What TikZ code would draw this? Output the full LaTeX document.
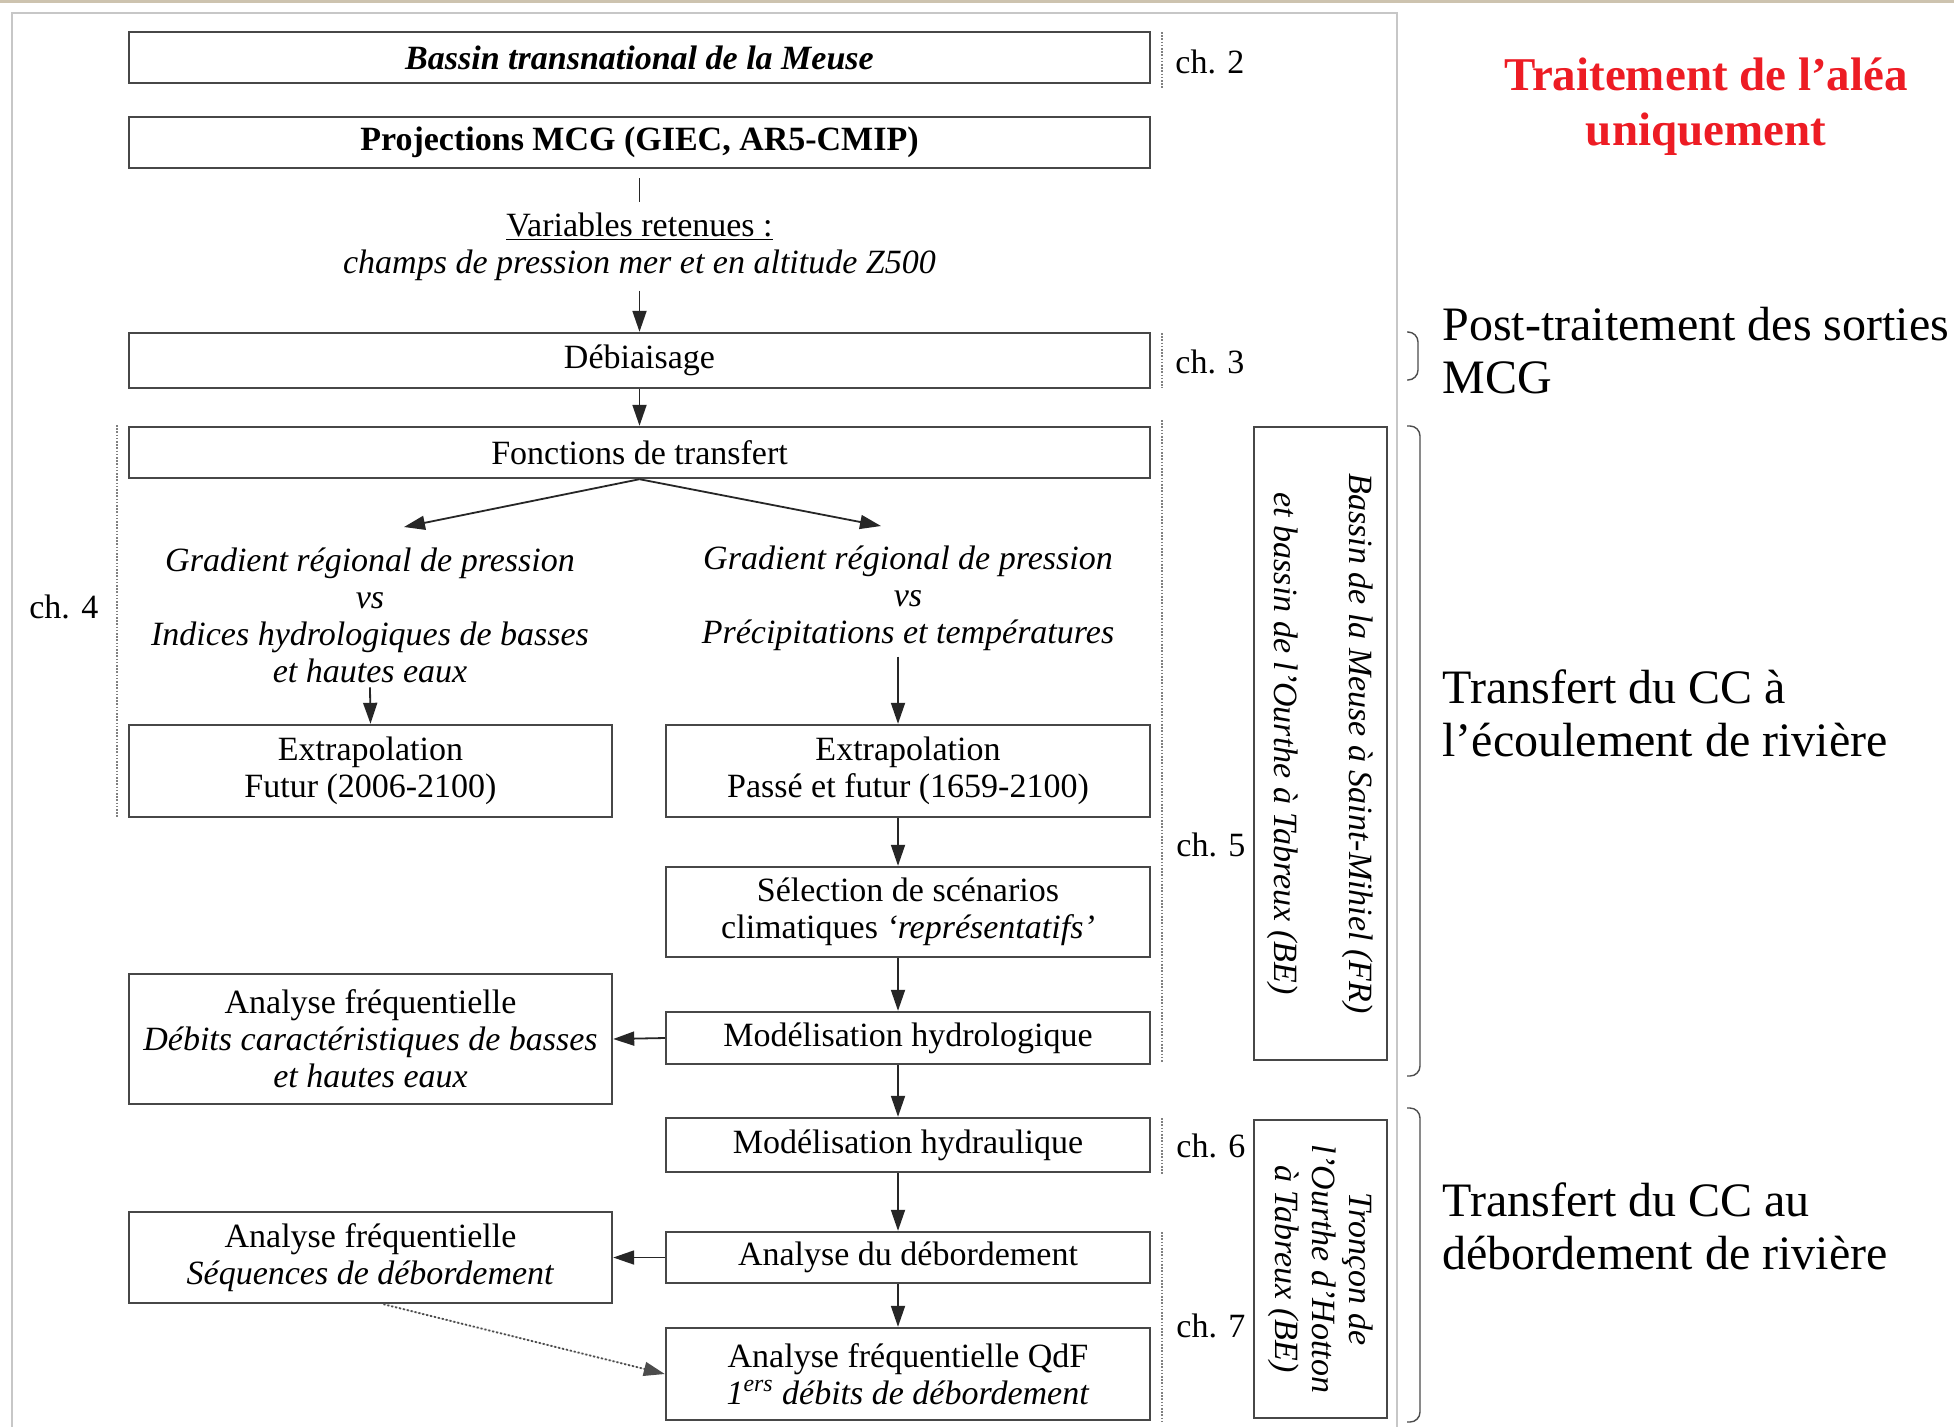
\documentclass[tikz,border=0pt]{standalone}
\usepackage{fontspec}
\setmainfont{Liberation Serif}
\usetikzlibrary{arrows.meta}
\definecolor{titlered}{RGB}{237,28,36}
\definecolor{topline}{RGB}{205,195,175}
\begin{document}
\begin{tikzpicture}[x=0.5pt,y=-0.5pt,
  box/.style={draw=black!72, line width=1.2pt, fill=white, inner sep=0pt, align=center, font=\fontsize{17}{18.5}\selectfont},
  lbl/.style={inner sep=0pt, align=center, font=\fontsize{17}{18.5}\selectfont\itshape},
  chlbl/.style={inner sep=0pt, anchor=west, font=\fontsize{17}{18.5}\selectfont},
  arr/.style={-{Triangle[length=10.5pt,width=7pt]}, line width=0.9pt, draw=black!85, fill=black!85},
  conn/.style={line width=0.9pt, draw=black!85},
  dotarr/.style={-{Triangle[length=10.5pt,width=7pt]}, line width=0.9pt, draw=black!70, fill=black!85, dash pattern=on 1pt off 1pt},
  dotv/.style={draw=black!50, line width=0.8pt, dash pattern=on 0.8pt off 0.8pt},
  brk/.style={draw=black!70, line width=0.7pt, rounded corners=5pt},
  side/.style={inner sep=0pt, anchor=west, align=left, font=\fontsize{24}{26.5}\selectfont}]
\useasboundingbox (0,0) rectangle (1954,1426);
\fill[white] (0,0) rectangle (1954,1426);
% decorative lines
\draw[topline, line width=1.5pt] (0,1) -- (1954,1);
\draw[black!22, line width=1.2pt] (12,1430) -- (12,13) -- (1397,13) -- (1397,1430);

% main column boxes
\node[box, minimum width=510.5pt, minimum height=25.5pt] (B1) at (639.5,57.5) {\textbf{\textit{Bassin transnational de la Meuse}}};
\node[box, minimum width=510.5pt, minimum height=25.5pt] (B2) at (639.5,142.5) {\textbf{Projections MCG (GIEC, AR5-CMIP)}};
\node[lbl, inner sep=5pt, font=\fontsize{17}{18.5}\selectfont] (vars) at (639.5,246.5) {\underline{Variables retenues :}\\\textit{champs de pression mer et en altitude Z500}};
\node[box, minimum width=510.5pt, minimum height=27.5pt] (B3) at (639.5,360.5) {Débiaisage};
\node[box, minimum width=510.5pt, minimum height=25.5pt] (B4) at (639.5,452.5) {Fonctions de transfert};

\node[lbl, inner sep=2pt] (G1) at (370,615.5) {Gradient régional de pression\\vs\\Indices hydrologiques de basses\\et hautes eaux};
\node[lbl, inner sep=3pt] (G2) at (908,598) {Gradient régional de pression\\vs\\Précipitations et températures};
\coordinate (t1) at (404,527);
\coordinate (t2) at (881,526);

\node[box, minimum width=241.5pt, minimum height=46pt] (E1) at (370.5,771) {Extrapolation\\Futur (2006-2100)};
\node[box, minimum width=242pt, minimum height=46pt] (E2) at (908,771) {Extrapolation\\Passé et futur (1659-2100)};
\node[box, minimum width=242pt, minimum height=45pt] (S) at (908,912) {Sélection de scénarios\\climatiques \textit{‘représentatifs’}};
\node[box, minimum width=242pt, minimum height=26pt] (MH) at (908,1038) {Modélisation hydrologique};
\node[box, minimum width=241.5pt, minimum height=65pt] (AF1) at (370.5,1039) {Analyse fréquentielle\\\textit{Débits caractéristiques de basses}\\\textit{et hautes eaux}};
\node[box, minimum width=242pt, minimum height=27pt] (MHy) at (908,1145) {Modélisation hydraulique};
\node[box, minimum width=242pt, minimum height=25.5pt] (AD) at (908,1257.5) {Analyse du débordement};
\node[box, minimum width=241.5pt, minimum height=45.5pt] (AF2) at (370.5,1257.5) {Analyse fréquentielle\\\textit{Séquences de débordement}};
\node[box, minimum width=242pt, minimum height=46pt] (QdF) at (908,1374) {Analyse fréquentielle QdF\\\textit{1\textsuperscript{ers} débits de débordement}};

% vertical boxes
\node[box, minimum width=66.5pt, minimum height=316.5pt] (V1) at (1320.5,743.5) {};
\node[lbl, rotate=-90, font=\fontsize{17}{37.5}\selectfont\itshape] (V1t) at (V1.center) {Bassin de la Meuse à Saint-Mihiel (FR)\\et bassin de l’Ourthe à Tabreux (BE)};
\node[box, minimum width=66.5pt, minimum height=149pt] (V2) at (1320.5,1269) {};
\node[lbl, rotate=-90] (V2t) at (V2.center) {Tronçon de\\l’Ourthe d’Hotton\\à Tabreux (BE)};

% chapter labels and dotted markers
\node[chlbl] (c2) at (1175,62) {ch. 2};
\node[chlbl] (c3) at (1175,362) {ch. 3};
\node[chlbl] (c4) at (29,607) {ch. 4};
\node[chlbl] (c5) at (1176,845) {ch. 5};
\node[chlbl] (c6) at (1176,1146) {ch. 6};
\node[chlbl] (c7) at (1176,1326) {ch. 7};
\draw[dotv] (1162,32) -- (1162,88);
\draw[dotv] (1162,333) -- (1162,388);
\draw[dotv] (1162,420) -- (1162,1062);
\draw[dotv] (1162,1118) -- (1162,1175);
\draw[dotv] (1162,1232) -- (1162,1422);
\draw[dotv] (117,425) -- (117,817);

% connectors
\draw[conn, shorten <=4.5pt] (B2.south) -- (vars.north);
\draw[arr] (vars.south) -- (B3.north);
\draw[arr] (B3.south) -- (B4.north);
\draw[arr] (B4.south) -- (t1);
\draw[arr] (B4.south) -- (t2);
\draw[arr] (G1.south) -- (E1.north);
\draw[arr] ([xshift=-5pt]G2.south) -- ([xshift=-5pt]E2.north);
\draw[arr] ([xshift=-5pt]E2.south) -- ([xshift=-5pt]S.north);
\draw[arr] ([xshift=-5pt]S.south) -- ([xshift=-5pt]MH.north);
\draw[arr] (MH.west) -- (AF1.east);
\draw[arr] ([xshift=-5pt]MH.south) -- ([xshift=-5pt]MHy.north);
\draw[arr] ([xshift=-5pt]MHy.south) -- ([xshift=-5pt]AD.north);
\draw[arr] (AD.west) -- (AF2.east);
\draw[arr] ([xshift=-5pt]AD.south) -- ([xshift=-5pt]QdF.north);
\draw[dotarr] ([xshift=6.5pt]AF2.south) -- (QdF.west);

% right side
\node[inner sep=0pt, align=center, font=\fontsize{23.5}{27.5}\selectfont\bfseries, text=titlered] (T) at (1706,106.5) {Traitement de l’aléa\\uniquement};
\draw[brk] (1407,332) -- (1418,332) -- (1418,380) -- (1407,380);
\draw[brk] (1407,426) -- (1420,426) -- (1420,1076) -- (1407,1076);
\draw[brk] (1407,1108) -- (1420,1108) -- (1420,1422) -- (1407,1422);
\node[side] (P1) at (1442,350.5) {Post-traitement des sorties\\MCG};
\node[side] (P2) at (1442,713.5) {Transfert du CC à\\l’écoulement de rivière};
\node[side] (P3) at (1442,1226) {Transfert du CC au\\débordement de rivière};
\end{tikzpicture}
\end{document}
